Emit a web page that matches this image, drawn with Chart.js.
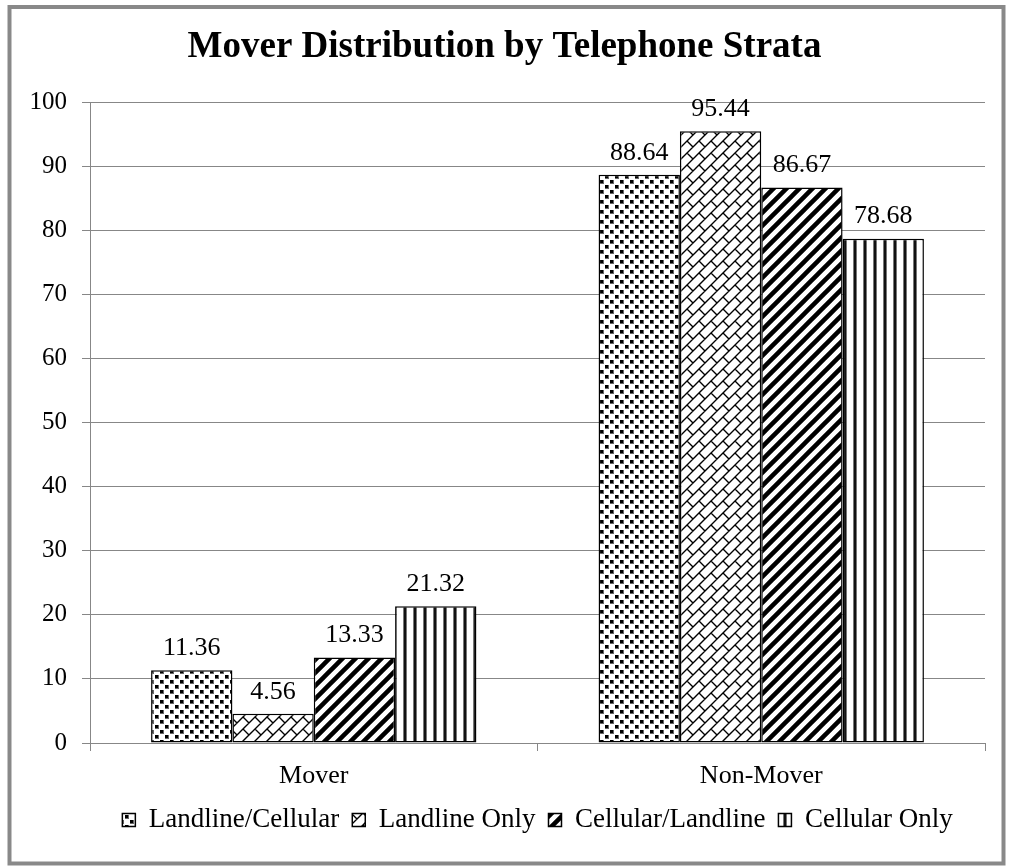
<!DOCTYPE html>
<html><head><meta charset="utf-8">
<script src="https://cdn.jsdelivr.net/npm/chart.js@4.4.1/dist/chart.umd.min.js"></script>
<style>html,body{margin:0;padding:0;background:#fff;overflow:hidden}canvas{display:block}</style>
</head><body>
<canvas id="c" width="1013" height="867"></canvas>
<script>
const categories = ['Mover', 'Non-Mover'];
const seriesNames = ['Landline/Cellular', 'Landline Only', 'Cellular/Landline', 'Cellular Only'];
const landlineCellular = [11.36, 88.64];
const landlineOnly = [4.56, 95.44];
const cellularLandline = [13.33, 86.67];
const cellularOnly = [21.32, 78.68];
const yTickValues = [0, 10, 20, 30, 40, 50, 60, 70, 80, 90, 100];
const chartTitle = 'Mover Distribution by Telephone Strata';

const FONT = '"Liberation Serif", "Times New Roman", serif';
const GRAY = '#878787';
const canvas = document.getElementById('c');
const mainCtx = canvas.getContext('2d');

function tile(w, h, draw) {
  const c = document.createElement('canvas');
  c.width = w; c.height = h;
  const g = c.getContext('2d');
  g.fillStyle = '#fff'; g.fillRect(0, 0, w, h);
  g.fillStyle = '#000'; g.strokeStyle = '#000';
  draw(g, w, h);
  return mainCtx.createPattern(c, 'repeat');
}
const dotsPattern = tile(10, 10, g => {
  g.fillStyle = '#666'; g.fillRect(0, 0, 4, 4); g.fillRect(5, 5, 4, 4);
  g.fillStyle = '#000'; g.fillRect(0, 0, 3, 3); g.fillRect(5, 5, 3, 3);
});
const brickPattern = tile(24, 24, g => {
  g.lineWidth = 1.4;
  g.beginPath();
  for (const c of [-12, 0, 12, 24, 36, 48, 60]) { g.moveTo(c + 30, -30); g.lineTo(c - 30, 30); }
  for (const ox of [-24, 0, 24]) for (const oy of [-24, 0, 24]) {
    g.moveTo(ox + 3, oy + 9); g.lineTo(ox + 9, oy + 15);
    g.moveTo(ox + 15, oy - 3); g.lineTo(ox + 21, oy + 3);
    g.moveTo(ox + 15, oy + 9); g.lineTo(ox + 21, oy + 15);
    g.moveTo(ox + 3, oy + 21); g.lineTo(ox + 9, oy + 27);
  }
  g.stroke();
});
const stripePattern = tile(13, 13, g => {
  g.lineWidth = 4.5;
  g.beginPath();
  for (const c of [-13, 0, 13, 26, 39]) { g.moveTo(c + 20, -20); g.lineTo(c - 20, 20); }
  g.stroke();
});
const verticalPattern = tile(10, 4, g => {
  g.fillStyle = '#777'; g.fillRect(3, 0, 4, 4);
  g.fillStyle = '#111'; g.fillRect(4, 0, 2, 4);
});

const patterns = [dotsPattern, brickPattern, stripePattern, verticalPattern];
const seriesValues = [landlineCellular, landlineOnly, cellularLandline, cellularOnly];

const frame = {
  id: 'frame',
  beforeDraw(chart) {
    const ctx = chart.ctx;
    ctx.save();
    ctx.fillStyle = '#fff';
    ctx.fillRect(0, 0, chart.width, chart.height);
    ctx.strokeStyle = '#898989';
    ctx.lineWidth = 4;
    ctx.strokeRect(9.5, 7, 994, 856.5);
    ctx.restore();
  }
};
const valueLabels = {
  id: 'valueLabels',
  afterDatasetsDraw(chart) {
    const ctx = chart.ctx;
    ctx.save();
    ctx.font = '26px ' + FONT;
    ctx.fillStyle = '#000';
    ctx.textAlign = 'center';
    ctx.textBaseline = 'middle';
    chart.data.datasets.forEach((ds, i) => {
      chart.getDatasetMeta(i).data.forEach((bar, j) => {
        ctx.fillText(ds.data[j].toFixed(2), bar.x, bar.y - 22);
      });
    });
    ctx.restore();
  }
};

new Chart(canvas, {
  type: 'bar',
  data: {
    labels: categories,
    datasets: seriesNames.map((name, i) => ({
      label: name,
      data: seriesValues[i],
      backgroundColor: patterns[i],
      borderColor: '#000',
      borderWidth: 1.5,
      borderSkipped: false,
      categoryPercentage: 0.727,
      barPercentage: 1.0
    }))
  },
  options: {
    responsive: false,
    animation: false,
    devicePixelRatio: 1,
    layout: { padding: { left: 24, right: 28, top: 0, bottom: 23.5 } },
    plugins: {
      title: {
        display: true, text: chartTitle, color: '#000',
        font: { family: FONT, size: 37, weight: 'bold', lineHeight: 1.2 },
        padding: { top: 25, bottom: 32.6 }
      },
      legend: {
        position: 'bottom', fullSize: false,
        labels: { color: '#000', font: { family: FONT, size: 27 }, boxWidth: 13, boxHeight: 13, padding: 13 }
      },
      tooltip: { enabled: false }
    },
    scales: {
      x: {
        grid: { display: true, drawOnChartArea: false, drawTicks: true, tickLength: 8, color: GRAY, lineWidth: 1 },
        border: { display: true, color: GRAY, width: 1 },
        ticks: { color: '#000', font: { family: FONT, size: 26 }, padding: 10 },
        afterFit(s) { s.height = 50.5; }
      },
      y: {
        min: 0, max: 100,
        afterBuildTicks(s) { s.ticks = yTickValues.map(v => ({ value: v })); },
        ticks: { color: '#000', font: { family: FONT, size: 25 }, padding: 15 },
        grid: { color: GRAY, lineWidth: 1, tickLength: 8, drawTicks: true },
        border: { display: true, color: GRAY, width: 1 },
        afterFit(s) { s.width = 66; }
      }
    }
  },
  plugins: [frame, valueLabels]
});
</script>
</body></html>
